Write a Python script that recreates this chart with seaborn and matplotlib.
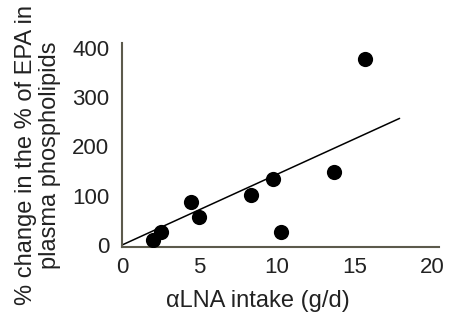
import matplotlib
matplotlib.use("Agg")
import matplotlib.pyplot as plt
import seaborn as sns
import pandas as pd

# ── Data ──────────────────────────────────────────────────────────────────────
alna_intake = [1.98, 2.5, 4.43, 4.95, 8.3, 9.74, 10.28, 13.65, 15.65]
epa_change = [11, 27, 88, 57, 102, 134, 26, 149, 378]

trend_x = [0, 17.9]
trend_y = [0, 257]

x_ticks = [0, 5, 10, 15, 20]
y_ticks = [0, 100, 200, 300, 400]

df = pd.DataFrame({"alna": alna_intake, "epa": epa_change})

# ── Plot ──────────────────────────────────────────────────────────────────────
sns.set_style("white")
plt.rcParams["font.family"] = ["Liberation Sans", "DejaVu Sans"]

fig = plt.figure(figsize=(4.51, 3.17), dpi=100)
ax = fig.add_axes([0.2705, 0.2208, 0.7025, 0.6436])

sns.scatterplot(data=df, x="alna", y="epa", ax=ax, s=120, color="black",
                edgecolor="black", linewidth=0, zorder=3)
ax.plot(trend_x, trend_y, color="black", linewidth=1.1, zorder=2)

ax.set_xlim(0, 20.43)
ax.set_ylim(-4, 410)
ax.set_xticks(x_ticks)
ax.set_yticks(y_ticks)
ax.tick_params(axis="both", length=0, labelsize=16, colors="#222222")
ax.tick_params(axis="x", pad=7)
ax.tick_params(axis="y", pad=9)

for side in ["top", "right"]:
    ax.spines[side].set_visible(False)
for side in ["left", "bottom"]:
    ax.spines[side].set_color("#5c5a4c")
    ax.spines[side].set_linewidth(1.5)

ax.set_xlabel("")
ax.set_ylabel("")
fig.text(0.572, 0.052, "\u03b1LNA intake (g/d)", ha="center", va="center",
         fontsize=17, color="#222222")
fig.text(0.085, 0.51, "% change in the % of EPA in\nplasma phospholipids",
         ha="center", va="center", rotation=90, fontsize=17,
         color="#222222", linespacing=1.1)

fig.savefig("out.png", dpi=100)
